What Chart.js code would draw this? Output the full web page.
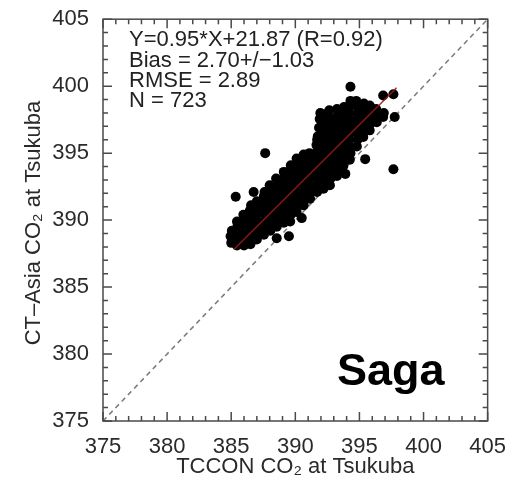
<!DOCTYPE html>
<html>
<head>
<meta charset="utf-8">
<script src="https://cdn.jsdelivr.net/npm/chart.js@4.4.0/dist/chart.umd.min.js"></script>
<style>
  body { margin: 0; background: #fff; }
  #wrap { width: 511px; height: 480px; }
</style>
</head>
<body>
<div id="wrap"><canvas id="scatterChart"></canvas></div>
<script>
// TCCON (x) vs CT-Asia (y) CO2 at Tsukuba, ppm
var tcconCO2 = [
  385.0, 384.95, 385.05,
  385.45, 385.5, 385.55, 385.5, 385.45, 385.35,
  386.0, 386.05, 385.95, 386.0, 386.05, 385.95,
  386.5, 386.45, 386.5, 386.55, 386.5, 386.45, 386.55, 386.75,
  387.0, 387.05, 387.0, 386.95, 387.0, 387.05, 387.0,
  387.55, 387.5, 387.55, 387.6, 387.55, 387.5, 387.55, 387.6, 387.65,
  388.05, 388.1, 388.05, 388.0, 388.05, 388.1, 388.05, 388.0,
  388.55, 388.6, 388.55, 388.5, 388.55, 388.6, 388.55, 388.5, 388.55,
  389.1, 389.05, 389.1, 389.15, 389.1, 389.05, 389.1, 389.15, 389.1, 389.5,
  389.6, 389.65, 389.6, 389.55, 389.6, 389.65, 389.6, 389.55, 389.6, 389.65,
  390.1, 390.15, 390.1, 390.05, 390.1, 390.15, 390.1, 390.05, 390.1,
  390.65, 390.6, 390.65, 390.7, 390.65, 390.6, 390.65, 390.7, 390.65, 390.5,
  391.15, 391.2, 391.15, 391.1, 391.15, 391.2, 391.15, 391.1,
  391.7, 391.75, 391.7, 391.65, 391.7, 391.75, 391.7, 391.65, 391.7, 391.75, 391.85, 391.9, 391.95,
  392.2, 392.25, 392.2, 392.15, 392.2, 392.25, 392.2, 392.15, 392.2, 392.25, 392.2, 392.15,
  392.7, 392.75, 392.7, 392.65, 392.7, 392.75, 392.7, 392.65, 392.7, 392.75, 392.7, 392.65,
  393.25, 393.3, 393.25, 393.2, 393.25, 393.3, 393.25, 393.2, 393.25, 393.3, 393.25,
  393.75, 393.8, 393.75, 393.7, 393.75, 393.8, 393.75, 393.7, 393.75, 393.8, 393.9,
  394.25, 394.3, 394.25, 394.2, 394.25, 394.3, 394.25, 394.2, 394.25, 394.3, 394.3,
  394.8, 394.85, 394.8, 394.75, 394.8, 394.85, 394.8, 394.75,
  395.3, 395.35, 395.3, 395.25, 395.3, 395.35, 395.45,
  395.8, 395.85, 395.8, 395.75, 395.8,
  396.35, 396.4, 396.3,
  396.85, 396.9, 396.85, 397.65, 397.75, 397.65
];
var ctAsiaCO2 = [
  388.3, 388.8, 389.2,
  388.1, 388.6, 389.1, 389.6, 389.9, 391.75,
  388.1, 388.6, 389.1, 389.6, 390.0, 390.4,
  388.2, 388.7, 389.2, 389.7, 390.2, 390.7, 391.1, 392.1,
  388.55, 389.0, 389.5, 390.0, 390.5, 391.0, 391.4,
  388.9, 389.4, 389.9, 390.4, 390.9, 391.4, 391.8, 392.1, 395.0,
  389.2, 389.7, 390.2, 390.7, 391.2, 391.7, 392.2, 392.6,
  389.5, 390.0, 390.5, 391.0, 391.5, 392.0, 392.5, 393.1, 388.65,
  389.8, 390.3, 390.8, 391.3, 391.8, 392.3, 392.8, 393.2, 393.6, 388.8,
  389.9, 390.4, 390.9, 391.4, 391.9, 392.4, 392.9, 393.4, 393.8, 394.1,
  390.6, 391.1, 391.6, 392.1, 392.6, 393.1, 393.6, 394.1, 394.6,
  391.1, 391.6, 392.1, 392.6, 393.1, 393.6, 394.1, 394.5, 394.9, 390.15,
  391.6, 392.1, 392.6, 393.1, 393.6, 394.1, 394.6, 395.0,
  392.1, 392.6, 393.1, 393.6, 394.1, 394.6, 395.1, 395.6, 396.0, 396.25, 396.9, 397.55, 398.0,
  392.35, 392.85, 393.35, 393.85, 394.35, 394.85, 395.35, 395.85, 396.35, 396.85, 397.35, 397.9,
  392.6, 393.1, 393.6, 394.1, 394.6, 395.1, 395.6, 396.1, 396.6, 397.1, 397.6, 398.2,
  393.3, 393.8, 394.3, 394.8, 395.3, 395.8, 396.3, 396.8, 397.3, 397.8, 398.3,
  394.05, 394.55, 395.05, 395.55, 396.05, 396.55, 397.05, 397.55, 398.0, 398.45, 393.45,
  394.5, 395.0, 395.5, 396.0, 396.5, 397.0, 397.5, 398.0, 398.5, 398.9, 399.95,
  395.5, 396.0, 396.5, 397.0, 397.5, 398.0, 398.5, 398.9,
  396.2, 396.7, 397.2, 397.7, 398.2, 398.7, 394.55,
  396.7, 397.2, 397.7, 398.2, 398.55,
  397.3, 397.8, 398.3,
  397.7, 398.0, 399.3, 399.4, 397.7, 393.8
];

var axisRange = [375, 405];
var fitSlope = 0.95;
var fitIntercept = 21.87;
var fitXRange = [385.2, 397.9];
var statsLines = ['Y=0.95*X+21.87 (R=0.92)', 'Bias = 2.70+/\u22121.03', 'RMSE = 2.89', 'N = 723'];
var xTitle = 'TCCON CO\u2082 at Tsukuba';
var yTitle = 'CT\u2013Asia CO\u2082 at Tsukuba';
var siteName = 'Saga';

Chart.defaults.font.family = '"Liberation Sans", Arial, Helvetica, sans-serif';
Chart.defaults.color = '#2a2a2a';

/**
 * Box, inward ticks on all four sides and the text notes (IDL look)
 */
var frameAndNotes = {
    id: 'frameAndNotes',
    afterDatasetsDraw: function(chart){
        var c = chart.ctx;
        var area = chart.chartArea;
        var xs = chart.scales.x, ys = chart.scales.y;
        c.save();
        c.strokeStyle = '#4a4a4a';
        c.lineWidth = 1.5;
        c.setLineDash([]);
        c.strokeRect(area.left, area.top, area.right - area.left, area.bottom - area.top);
        c.beginPath();
        for (var v = axisRange[0]; v <= axisRange[1]; v++) {
            var len = (v % 5 === 0) ? 9 : 5;
            var px = xs.getPixelForValue(v);
            var py = ys.getPixelForValue(v);
            c.moveTo(px, area.bottom); c.lineTo(px, area.bottom - len);
            c.moveTo(px, area.top); c.lineTo(px, area.top + len);
            c.moveTo(area.left, py); c.lineTo(area.left + len, py);
            c.moveTo(area.right, py); c.lineTo(area.right - len, py);
        }
        c.stroke();

        c.fillStyle = '#222';
        c.font = '22px "Liberation Sans", Arial, sans-serif';
        c.textAlign = 'left';
        c.textBaseline = 'alphabetic';
        statsLines.forEach(function(line, i){
            c.fillText(line, area.left + 26, area.top + 27 + i * 20.3);
        });

        // y title, rotated
        c.save();
        c.translate(34, (area.top + area.bottom) / 2 + 3);
        c.rotate(-Math.PI / 2);
        c.textAlign = 'center';
        c.textBaseline = 'middle';
        c.fillStyle = '#2a2a2a';
        c.fillText(yTitle, 0, 0);
        c.restore();

        c.fillStyle = '#000';
        c.font = 'bold 45px "Liberation Sans", Arial, sans-serif';
        c.fillText(siteName, area.left + 234, area.bottom - 36);
        c.restore();
    }
};

var samples = tcconCO2.map(function(x, i){ return {x: x, y: ctAsiaCO2[i]}; });
var fitLine = fitXRange.map(function(x){ return {x: x, y: fitSlope * x + fitIntercept}; });
var oneToOne = axisRange.map(function(v){ return {x: v, y: v}; });

var ctx = document.getElementById('scatterChart').getContext('2d');
var chart = new Chart(ctx, {
    type: 'scatter',
    data: {
        datasets: [{
            label: 'Fit',
            data: fitLine,
            showLine: true,
            borderColor: 'rgba(150,25,30,0.9)',
            borderWidth: 1.5,
            pointRadius: 0,
            order: 0
        }, {
            label: 'Samples',
            data: samples,
            backgroundColor: '#000',
            pointRadius: 5,
            pointBorderWidth: 0,
            order: 1
        }, {
            label: '1:1',
            data: oneToOne,
            showLine: true,
            borderColor: '#7a7a7a',
            borderWidth: 1.5,
            borderDash: [5, 4],
            pointRadius: 0,
            order: 2
        }]
    },
    options: {
        responsive: true,
        maintainAspectRatio: false,
        animation: false,
        layout: { padding: { top: 10, right: 21, left: 0, bottom: 0 } },
        plugins: { legend: { display: false }, tooltip: { enabled: false } },
        scales: {
            x: {
                type: 'linear',
                min: axisRange[0],
                max: axisRange[1],
                grid: { display: false },
                border: { display: false },
                ticks: { stepSize: 5, padding: 5, maxRotation: 0, autoSkip: false, font: { size: 22 } },
                title: { display: true, text: xTitle, font: { size: 22 }, padding: { top: 0, bottom: 0 } },
                afterFit: function(scale){ scale.height = 59; }
            },
            y: {
                type: 'linear',
                min: axisRange[0],
                max: axisRange[1],
                grid: { display: false },
                border: { display: false },
                ticks: { stepSize: 5, padding: 6, autoSkip: false, font: { size: 22 } },
                afterFit: function(scale){ scale.width = 103; }
            }
        }
    },
    plugins: [frameAndNotes]
});
</script>
</body>
</html>
